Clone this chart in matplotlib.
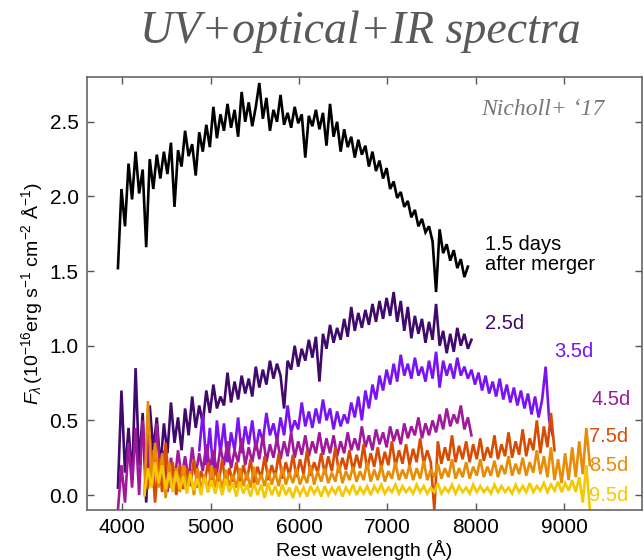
import numpy as np
import matplotlib
matplotlib.use("Agg")
import matplotlib.pyplot as plt

# ---------------- data ----------------
step = 40  # Angstrom sampling of the hand-read spectra

start_1p5 = 3950
flux_1p5 = [1.52, 2.05, 1.80, 2.22, 1.98, 2.30, 2.02, 2.18, 1.66, 2.25,
            2.05, 2.28, 2.12, 2.30, 2.15, 2.36, 1.93, 2.31, 2.20, 2.44,
            2.27, 2.35, 2.14, 2.43, 2.30, 2.48, 2.33, 2.60, 2.39, 2.55,
            2.44, 2.62, 2.46, 2.58, 2.40, 2.70, 2.50, 2.63, 2.47, 2.60,
            2.76, 2.52, 2.66, 2.44, 2.58, 2.50, 2.68, 2.48, 2.56, 2.46,
            2.60, 2.49, 2.55, 2.26, 2.54, 2.47, 2.58, 2.45, 2.56, 2.34,
            2.62, 2.40, 2.50, 2.30, 2.45, 2.33, 2.40, 2.26, 2.38, 2.28,
            2.34, 2.20, 2.30, 2.17, 2.24, 2.12, 2.19, 2.05, 2.10, 1.99,
            2.03, 1.93, 1.97, 1.86, 1.91, 1.80, 1.85, 1.76, 1.80, 1.70,
            1.36, 1.78, 1.62, 1.68, 1.57, 1.64, 1.52, 1.58, 1.46, 1.53]

start_2p5 = 3950
flux_2p5 = [0.05, 0.70, 0.15, 0.45, 0.10, 0.85, 0.20, 0.55, -0.05, 0.60,
            0.30, 0.52, 0.18, 0.48, 0.28, 0.62, 0.35, 0.52, 0.30, 0.58,
            0.40, 0.66, 0.45, 0.60, 0.48, 0.70, 0.55, 0.74, 0.58, 0.66,
            0.60, 0.82, 0.62, 0.76, 0.64, 0.80, 0.68, 0.78, 0.66, 0.86,
            0.72, 0.84, 0.74, 0.90, 0.78, 0.88, 0.80, 0.58, 0.90, 0.84,
            1.00, 0.86, 0.98, 0.90, 1.04, 0.92, 1.06, 0.76, 1.08, 0.98,
            1.14, 1.02, 1.12, 1.04, 1.18, 1.06, 1.26, 1.10, 1.22, 1.12,
            1.24, 1.14, 1.28, 1.16, 1.30, 1.18, 1.32, 1.20, 1.36, 1.16,
            1.30, 1.10, 1.26, 1.05, 1.20, 1.08, 1.18, 1.02, 1.16, 1.04,
            1.28, 1.00, 1.10, 0.95, 1.08, 0.96, 1.12, 1.00, 1.08, 0.98,
            1.04]

start_3p5 = 4870
flux_3p5 = [0.30, 0.55, 0.20, 0.45, 0.15, 0.50, 0.28, 0.48, 0.22, 0.42,
            0.30, 0.52, 0.28, 0.46, 0.34, 0.50, 0.30, 0.44, 0.36, 0.55,
            0.40, 0.48, 0.36, 0.52, 0.40, 0.60, 0.42, 0.50, 0.44, 0.62,
            0.46, 0.56, 0.45, 0.58, 0.48, 0.64, 0.50, 0.58, 0.44, 0.56,
            0.46, 0.54, 0.48, 0.62, 0.52, 0.66, 0.50, 0.70, 0.58, 0.74,
            0.64, 0.80, 0.70, 0.84, 0.74, 0.88, 0.76, 0.94, 0.80, 0.88,
            0.78, 0.92, 0.80, 0.86, 0.76, 0.90, 0.78, 0.96, 0.72, 0.90,
            0.80, 0.88, 0.78, 0.92, 0.80, 0.86, 0.78, 0.84, 0.74, 0.82,
            0.70, 0.80, 0.68, 0.76, 0.66, 0.78, 0.64, 0.74, 0.62, 0.72,
            0.60, 0.70, 0.58, 0.68, 0.54, 0.66, 0.52, 0.64, 0.86, 0.50,
            0.40]

start_4p5 = 3950
flux_4p5 = [-0.10, 0.20, -0.05, 0.35, 0.05, 0.45, 0.00, 0.50, 0.10, 0.40,
            0.05, 0.48, 0.12, 0.30, 0.02, 0.25, 0.08, 0.30, 0.12, 0.26,
            0.10, 0.32, 0.14, 0.28, 0.16, 0.34, 0.18, 0.30, 0.15, 0.32,
            0.20, 0.36, 0.18, 0.30, 0.22, 0.38, 0.20, 0.32, 0.22, 0.36,
            0.24, 0.40, 0.22, 0.34, 0.25, 0.38, 0.24, 0.36, 0.26, 0.42,
            0.25, 0.36, 0.27, 0.40, 0.26, 0.36, 0.28, 0.42, 0.27, 0.38,
            0.28, 0.40, 0.26, 0.36, 0.28, 0.42, 0.30, 0.38, 0.30, 0.46,
            0.32, 0.40, 0.30, 0.44, 0.34, 0.42, 0.32, 0.46, 0.36, 0.44,
            0.34, 0.48, 0.38, 0.46, 0.40, 0.52, 0.38, 0.48, 0.40, 0.50,
            0.42, 0.54, 0.44, 0.58, 0.46, 0.54, 0.48, 0.60, 0.44, 0.52,
            0.40]

start_7p5 = 4290
flux_7p5 = [0.05, 0.30, -0.05, 0.25, 0.02, 0.35, 0.05, 0.22, 0.00, 0.20,
            0.04, 0.18, 0.06, 0.24, 0.05, 0.16, 0.08, 0.22, 0.06, 0.18,
            0.08, 0.24, 0.07, 0.18, 0.09, 0.22, 0.08, 0.20, 0.10, 0.24,
            0.08, 0.19, 0.11, 0.26, 0.10, 0.20, 0.12, 0.28, 0.11, 0.22,
            0.13, 0.27, 0.12, 0.24, 0.14, 0.30, 0.13, 0.22, 0.15, 0.28,
            0.14, 0.26, 0.16, 0.32, 0.15, 0.25, 0.17, 0.30, 0.16, 0.27,
            0.18, 0.34, 0.17, 0.28, 0.19, 0.32, 0.18, 0.29, 0.20, 0.36,
            0.19, 0.30, 0.21, 0.34, 0.20, 0.31, 0.22, 0.38, 0.21, 0.30,
            0.22, -0.10, 0.36, 0.21, 0.32, 0.23, 0.40, 0.22, 0.33, 0.24,
            0.36, 0.22, 0.34, 0.24, 0.38, 0.23, 0.32, 0.25, 0.40, 0.24,
            0.34, 0.26, 0.42, 0.25, 0.36, 0.27, 0.44, 0.26, 0.38, 0.30,
            0.50, 0.28, 0.46, 0.32, 0.55, 0.30]

start_8p5 = 4250
flux_8p5 = [0.00, 0.63, 0.10, 0.35, 0.05, 0.28, -0.02, 0.22, 0.04, 0.18,
            0.02, 0.20, 0.05, 0.16, 0.00, 0.18, 0.04, 0.14, 0.02, 0.20,
            0.05, 0.15, 0.04, 0.17, 0.06, 0.14, 0.05, 0.18, 0.06, 0.15,
            0.05, 0.19, 0.07, 0.14, 0.06, 0.17, 0.07, 0.15, 0.06, 0.19,
            0.07, 0.15, 0.08, 0.18, 0.07, 0.14, 0.08, 0.20, 0.07, 0.16,
            0.09, 0.18, 0.08, 0.15, 0.09, 0.21, 0.08, 0.16, 0.10, 0.19,
            0.09, 0.16, 0.10, 0.22, 0.09, 0.17, 0.10, 0.20, 0.09, 0.16,
            0.11, 0.22, 0.10, 0.17, 0.11, 0.20, 0.10, 0.18, 0.11, 0.23,
            0.10, 0.17, 0.12, 0.21, 0.11, 0.18, 0.12, 0.24, 0.11, 0.18,
            0.12, 0.22, 0.11, 0.19, 0.13, 0.24, 0.12, 0.19, 0.13, 0.23,
            0.12, 0.20, 0.14, 0.26, 0.13, 0.21, 0.14, 0.25, 0.13, 0.22,
            0.15, 0.30, 0.14, 0.26, 0.12, 0.32, 0.10, 0.24, 0.08, 0.28,
            0.10, 0.32, 0.12, 0.36, 0.14, 0.45, 0.20]

start_9p5 = 4250
flux_9p5 = [0.00, 0.18, 0.05, 0.22, 0.08, 0.20, 0.04, 0.15, 0.02, 0.16,
            0.04, 0.12, 0.01, 0.14, 0.03, 0.11, 0.00, 0.12, 0.02, 0.10,
            0.01, 0.09, 0.00, 0.11, 0.02, 0.08, -0.01, 0.09, 0.01, 0.07,
            -0.01, 0.08, 0.00, 0.07, -0.02, 0.08, 0.00, 0.06, -0.01, 0.07,
            0.00, 0.05, -0.02, 0.06, 0.00, 0.05, -0.01, 0.06, 0.01, 0.05,
            -0.01, 0.06, 0.00, 0.05, 0.01, 0.06, -0.01, 0.05, 0.01, 0.07,
            0.00, 0.05, 0.01, 0.06, 0.00, 0.06, 0.02, 0.07, 0.01, 0.05,
            0.02, 0.07, 0.01, 0.06, 0.02, 0.05, 0.01, 0.07, 0.02, 0.06,
            0.01, 0.05, 0.02, 0.08, 0.01, 0.05, 0.02, 0.07, 0.01, 0.06,
            0.02, 0.05, 0.01, 0.07, 0.02, 0.06, 0.02, 0.05, 0.01, 0.07,
            0.02, 0.06, 0.02, 0.05, 0.01, 0.07, 0.02, 0.06, 0.02, 0.08,
            0.02, 0.06, 0.03, 0.08, 0.02, 0.07, 0.03, 0.09, 0.02, 0.08,
            0.03, 0.10, 0.02, 0.12, -0.05, 0.20, -0.10]

labels = ["1.5 days\nafter merger", "2.5d", "3.5d", "4.5d", "7.5d", "8.5d", "9.5d"]
label_x = [8100, 8100, 8890, 9310, 9280, 9280, 9280]
label_y = [1.61, 1.15, 0.96, 0.64, 0.39, 0.20, 0.00]

x_ticks = [4000, 5000, 6000, 7000, 8000, 9000]
y_ticks = [0.0, 0.5, 1.0, 1.5, 2.0, 2.5]

# ---------------- styling ----------------
plt.rcParams["mathtext.fontset"] = "custom"
plt.rcParams["mathtext.rm"] = "Liberation Sans"
plt.rcParams["mathtext.it"] = "Liberation Sans:italic"
plt.rcParams["mathtext.bf"] = "Liberation Sans:bold"

colors = ["#000000", "#40096c", "#7a12f2", "#a0199c", "#d84c02", "#e88b05", "#f5c900"]
starts = [start_1p5, start_2p5, start_3p5, start_4p5, start_7p5, start_8p5, start_9p5]
fluxes = [flux_1p5, flux_2p5, flux_3p5, flux_4p5, flux_7p5, flux_8p5, flux_9p5]

fig = plt.figure(figsize=(6.44, 5.60), dpi=100)
ax = fig.add_axes([87 / 644, 1 - 510 / 560, (642 - 87) / 644, (510 - 77) / 560])

for s, f, c in zip(starts, fluxes, colors):
    f = np.asarray(f)
    wl = s + step * np.arange(len(f))
    ax.plot(wl, f, color=c, lw=1.9, solid_joinstyle="miter")

ax.set_xlim(3600, 9880)
ax.set_ylim(-0.1, 2.8)
ax.set_xticks(x_ticks)
ax.set_yticks(y_ticks)
ax.set_yticklabels([f"{v:.1f}" for v in y_ticks])
ax.tick_params(direction="in", length=5, width=1, top=True, right=True,
               labelsize=15, colors="#555555", labelcolor="black", pad=6)
for sp in ax.spines.values():
    sp.set_color("#666666")
    sp.set_linewidth(1.2)

sans = ["Liberation Sans", "DejaVu Sans"]
for t in ax.get_xticklabels() + ax.get_yticklabels():
    t.set_family(sans)

ax.set_xlabel("Rest wavelength (Å)", fontsize=14, family=sans, labelpad=2)
ax.set_ylabel(r"$F_\lambda\,(10^{-16}$erg s$^{-1}$ cm$^{-2}$ Å$^{-1}$)",
              fontsize=14, family=sans, labelpad=3)

for txt, lx, ly, c in zip(labels, label_x, label_y, colors):
    ax.text(lx, ly, txt, color=c, fontsize=14.5, family=sans, ha="left", va="center",
            linespacing=1.05)

ax.text(0.933, 0.925, "Nicholl+ \u201817", transform=ax.transAxes, ha="right", va="center",
        fontsize=17, style="italic", family=["Liberation Serif", "DejaVu Serif"], color="#777777")

fig.text(0.56, 0.943, "UV+optical+IR spectra", ha="center", va="center",
         fontsize=33, style="italic", family=["Liberation Serif", "DejaVu Serif"], color="#595959")

fig.savefig("out.png", dpi=100)
